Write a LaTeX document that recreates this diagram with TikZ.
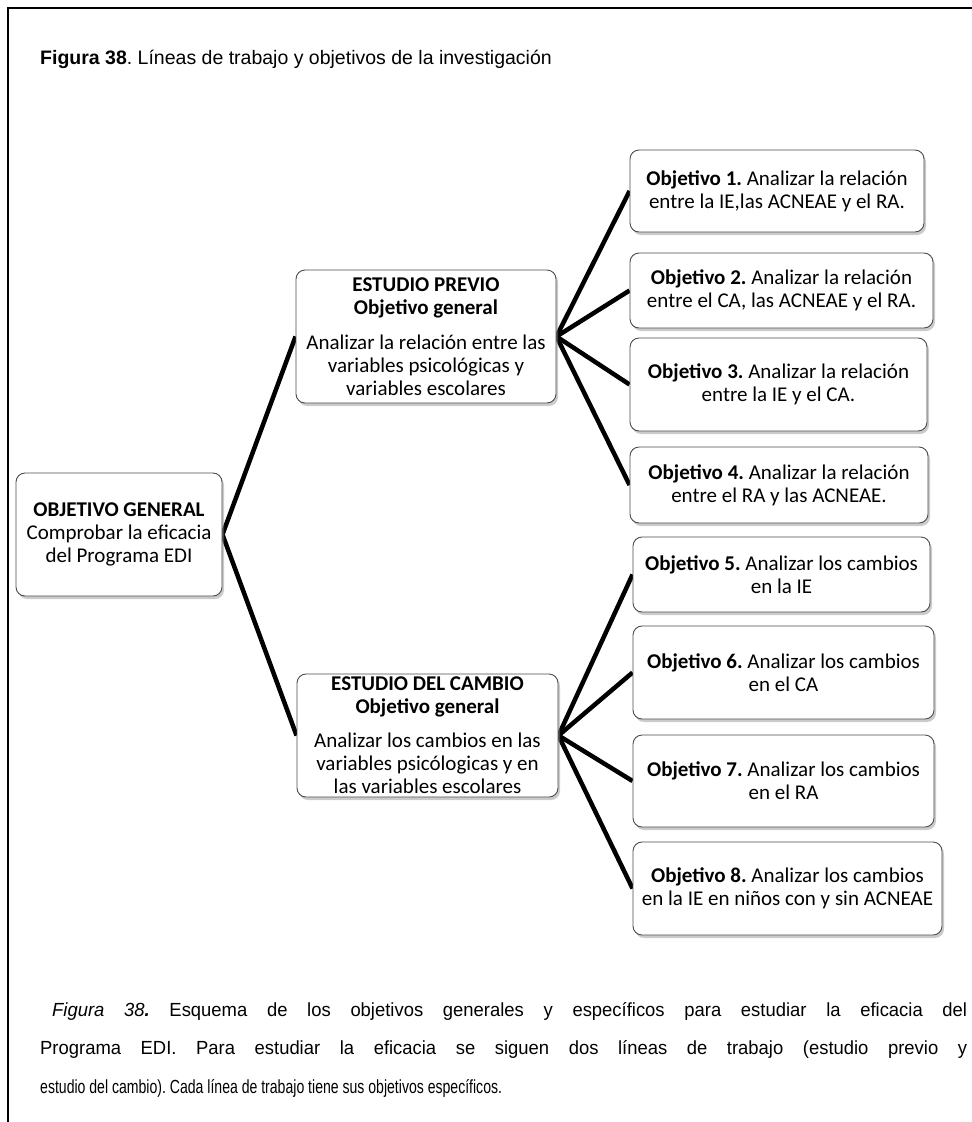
\documentclass[tikz,border=0pt]{standalone}
\usepackage{fontspec}
\setmainfont{Carlito}
\newfontfamily\arialfont{Liberation Sans}
\newfontfamily\narrowfont[FakeStretch=0.74]{Liberation Sans}
\newfontfamily\widefont[FakeStretch=0.97]{Liberation Sans}
\usetikzlibrary{shadows,backgrounds}
\frenchspacing

\begin{document}
\begin{tikzpicture}[x=1pt,y=-1pt,
  box/.style={draw=black!70, line width=0.9pt, rounded corners=9pt, fill=white,
    inner sep=0pt, align=center, font=\fontsize{21}{23}\selectfont,
    drop shadow={shadow xshift=2pt, shadow yshift=-3pt, fill=black!45, opacity=0.45}},
  link/.style={line width=4.5pt, black},
  frameline/.style={line width=2pt, black},
  capline/.style={anchor=base west, inner sep=0pt, font=\narrowfont\fontsize{19}{20}\selectfont},
  fullline/.style={capline, font=\widefont\fontsize{19}{20}\selectfont}]
\useasboundingbox (0,0) rectangle (972,1122);

% page frame (top and left rules)
\draw[frameline] (8,1122) -- (8,8) -- (972,8);

% heading
\node[anchor=base west, inner sep=0pt, font=\arialfont\fontsize{19.5}{22}\selectfont] (title) at (40,64)
  {\textbf{Figura 38}. Líneas de trabajo y objetivos de la investigación};

% general objective
\node[box, minimum width=206pt, minimum height=123pt] (gen) at (119,534.5)
  {\textbf{OBJETIVO GENERAL}\\Comprobar la eficacia\\del Programa EDI};

% lines of work
\node[box, minimum width=260pt, minimum height=133pt] (prev) at (426,336.5)
  {\textbf{ESTUDIO PREVIO}\\\textbf{Objetivo general}\\[12pt]Analizar la relación entre las\\variables psicológicas y\\variables escolares};
\node[box, minimum width=261pt, minimum height=123pt] (camb) at (427.5,735.5)
  {\textbf{ESTUDIO DEL CAMBIO}\\\textbf{Objetivo general}\\[11pt]Analizar los cambios en las\\variables psicólogicas y en\\las variables escolares};

% specific objectives
\node[box, minimum width=294pt, minimum height=82pt] (o1) at (777,191)
  {\textbf{Objetivo 1.} Analizar la relación\\entre la IE,las ACNEAE y el RA.};
\node[box, minimum width=303pt, minimum height=75pt] (o2) at (781.5,290.5)
  {\textbf{Objetivo 2.} Analizar la relación\\entre el CA, las ACNEAE y el RA.};
\node[box, minimum width=297pt, minimum height=93pt] (o3) at (778.5,384.5)
  {\textbf{Objetivo 3.} Analizar la relación\\entre la IE y el CA.};
\node[box, minimum width=298pt, minimum height=76pt] (o4) at (779,485)
  {\textbf{Objetivo 4.} Analizar la relación\\entre el RA y las ACNEAE.};
\node[box, minimum width=297pt, minimum height=75pt] (o5) at (781.5,574.5)
  {\textbf{Objetivo 5.} Analizar los cambios\\en la IE};
\node[box, minimum width=301pt, minimum height=93pt] (o6) at (783.5,672.5)
  {\textbf{Objetivo 6.} Analizar los cambios\\en el CA};
\node[box, minimum width=301pt, minimum height=92pt] (o7) at (783.5,781)
  {\textbf{Objetivo 7.} Analizar los cambios\\en el RA};
\node[box, minimum width=309pt, minimum height=93pt] (o8) at (787.5,888.5)
  {\textbf{Objetivo 8.} Analizar los cambios\\en la IE en niños con y sin ACNEAE};

% connectors
\begin{scope}[on background layer]
  \draw[link] (gen.east) -- (prev.west);
  \draw[link] (gen.east) -- (camb.west);
  \foreach \o in {o1,o2,o3,o4} \draw[link] (prev.east) -- (\o.west);
  \foreach \o in {o5,o6,o7,o8} \draw[link] (camb.east) -- (\o.west);
\end{scope}

% caption: two justified lines and a short last line
\node[fullline] (cap1) at (52,1016)
  {\makebox[915pt][s]{\textit{Figura 38}\textbf{\textit{.}} Esquema de los objetivos generales y específicos para estudiar la eficacia del}};
\node[fullline] (cap2) at (40,1054)
  {\makebox[927pt][s]{Programa EDI. Para estudiar la eficacia se siguen dos líneas de trabajo (estudio previo y}};
\node[capline] (cap3) at (40,1093)
  {estudio del cambio). Cada línea de trabajo tiene sus objetivos específicos.};
\end{tikzpicture}
\end{document}
